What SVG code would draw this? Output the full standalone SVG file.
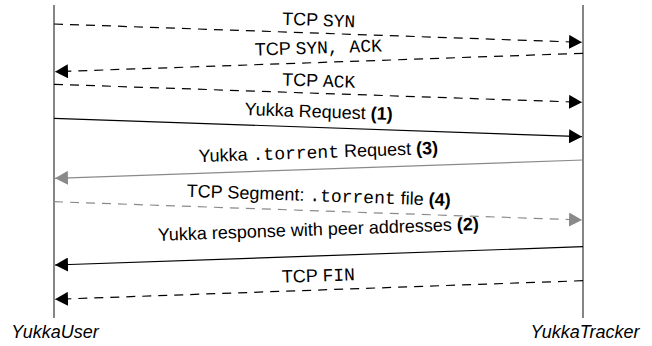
<svg xmlns="http://www.w3.org/2000/svg" width="652" height="346" viewBox="0 0 652 346">
<style>
.life{stroke:#858585;stroke-width:2;fill:none}
.msg{stroke:#000;stroke-width:1.2;fill:none}
.gray{stroke:#8a8a8a}
.dash{stroke-dasharray:9,7}
.lbl{font-family:"Liberation Sans",Arial,Helvetica,sans-serif;font-size:18px;fill:#000;text-anchor:middle}
.mono{font-family:"Liberation Mono","Courier New",monospace;font-size:18px;font-weight:normal}
.b{font-weight:bold}
.actor{font-family:"Liberation Sans",Arial,Helvetica,sans-serif;font-size:18px;font-style:italic;fill:#000;text-anchor:middle}
</style>
<defs>
<marker id="ah" markerUnits="userSpaceOnUse" markerWidth="14" markerHeight="14" refX="13" refY="7" orient="auto" viewBox="0 0 14 14">
<path d="M0,0 L13,7 L0,14 Z" fill="#000"/>
</marker>
<marker id="ahg" markerUnits="userSpaceOnUse" markerWidth="14" markerHeight="14" refX="13" refY="7" orient="auto" viewBox="0 0 14 14">
<path d="M0,0 L13,7 L0,14 Z" fill="#8a8a8a"/>
</marker>
</defs>
<rect width="652" height="346" fill="#fff"/>
<g id="YukkaUser">
<line class="life" x1="54" y1="5" x2="54" y2="318"/>
<text class="actor" x="55" y="338">YukkaUser</text>
</g>
<g id="YukkaTracker">
<line class="life" x1="583" y1="5" x2="583" y2="318"/>
<text class="actor" x="585" y="338">YukkaTracker</text>
</g>
<g id="connectors">
<g id="m1">
<line class="msg dash" x1="54" y1="24" x2="582" y2="42.3" marker-end="url(#ah)"/>
<text class="lbl" x="318.5" y="26" transform="rotate(1.98 318.5 26)">TCP <tspan class="mono">SYN</tspan></text>
</g>
<g id="m2">
<line class="msg dash" x1="583" y1="53.3" x2="55" y2="71.7" marker-end="url(#ah)"/>
<text class="lbl" x="318.5" y="53.5" transform="rotate(-1.98 318.5 53.5)">TCP <tspan class="mono">SYN, ACK</tspan></text>
</g>
<g id="m3">
<line class="msg dash" x1="54" y1="84.3" x2="582" y2="102.3" marker-end="url(#ah)"/>
<text class="lbl" x="318.5" y="86.7" transform="rotate(1.98 318.5 86.7)">TCP <tspan class="mono">ACK</tspan></text>
</g>
<g id="m4">
<line class="msg" x1="54" y1="118.3" x2="582" y2="136.7" marker-end="url(#ah)"/>
<text class="lbl" x="318.5" y="117.6" transform="rotate(1.98 318.5 117.6)">Yukka Request <tspan class="b">(1)</tspan></text>
</g>
<g id="m5">
<line class="msg gray" x1="583" y1="160" x2="55" y2="178.3" marker-end="url(#ahg)"/>
<text class="lbl" x="318.5" y="158" transform="rotate(-1.98 318.5 158)">Yukka <tspan class="mono">.torrent</tspan> Request <tspan class="b">(3)</tspan></text>
</g>
<g id="m6">
<line class="msg gray dash" x1="54" y1="201.7" x2="582" y2="220" marker-end="url(#ahg)"/>
<text class="lbl" x="318.5" y="201.4" transform="rotate(1.98 318.5 201.4)">TCP Segment: <tspan class="mono">.torrent</tspan> file <tspan class="b">(4)</tspan></text>
</g>
<g id="m7">
<line class="msg" x1="583" y1="246.7" x2="55" y2="265" marker-end="url(#ah)"/>
<text class="lbl" x="318.5" y="235.4" transform="rotate(-1.98 318.5 235.4)">Yukka response with peer addresses <tspan class="b">(2)</tspan></text>
</g>
<g id="m8">
<line class="msg dash" x1="583" y1="280.7" x2="55" y2="299.3" marker-end="url(#ah)"/>
<text class="lbl" x="318.5" y="281.5" transform="rotate(-1.98 318.5 281.5)">TCP <tspan class="mono">FIN</tspan></text>
</g>
</g>
</svg>
